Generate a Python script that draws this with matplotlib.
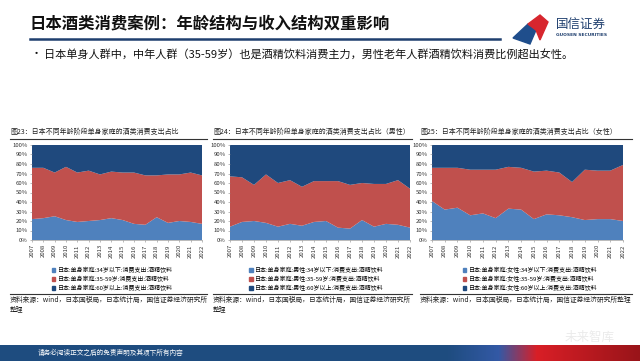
import numpy as np
import matplotlib.pyplot as plt
from matplotlib.patches import Polygon, Rectangle
from matplotlib.lines import Line2D

plt.rcParams['font.family'] = ['Noto Sans CJK SC', 'DejaVu Sans']

years = [str(y) for y in range(2007, 2023)]

# share of alcohol spending (%), bottom layer and cumulative top of middle layer
all_young = [22, 23, 25, 21, 19, 20, 21, 23, 21, 17, 16, 24, 18, 20, 19, 17]
all_mid_top = [76, 76, 71, 77, 71, 73, 69, 72, 71, 71, 68, 68, 69, 69, 71, 68]
male_young = [14, 19, 20, 18, 14, 17, 15, 19, 20, 13, 12, 21, 14, 17, 16, 13]
male_mid_top = [67, 66, 58, 69, 60, 63, 56, 62, 62, 62, 58, 60, 59, 59, 63, 54]
female_young = [41, 32, 34, 26, 28, 23, 33, 32, 22, 27, 26, 24, 21, 22, 22, 20]
female_mid_top = [76, 76, 76, 74, 74, 74, 77, 76, 72, 73, 71, 61, 74, 73, 73, 79]

chart_titles = ["图23：日本不同年龄阶段单身家庭的酒类消费支出占比",
                "图24：日本不同年龄阶段单身家庭的酒类消费支出占比（男性）",
                "图25：日本不同年龄阶段单身家庭的酒类消费支出占比（女性）"]
legend_prefix = ["日本:单身家庭:", "日本:单身家庭:男性:", "日本:单身家庭:女性:"]
age_groups = ["34岁以下", "35-59岁", "60岁以上"]
source = "资料来源：wind，日本国税局，日本统计局，国信证券经济研究所整理"

colors = ['#4F81BD', '#C0504D', '#1F497D']
W, H = 640, 361


def fx(px):
    return px / W


def fy(py):
    return 1 - py / H


fig = plt.figure(figsize=(6.4, 3.61), dpi=100)

# header
fig.text(fx(30), fy(23), "日本酒类消费案例：年龄结构与收入结构双重影响", fontsize=11.8,
         fontweight='bold', va='center', ha='left', color='#111111')
fig.add_artist(Line2D([fx(30), fx(500)], [fy(39), fy(39)], color='#1F3F6E', lw=1.8))
fig.text(fx(31), fy(54), "•", fontsize=8, va='center', ha='left', color='#111111')
fig.text(fx(44), fy(54), "日本单身人群中，中年人群（35-59岁）也是酒精饮料消费主力，男性老年人群酒精饮料消费比例超出女性。",
         fontsize=8.0, va='center', ha='left', color='#111111')

# logo
fig.add_artist(Polygon([[fx(513), fy(38)], [fx(528), fy(24)], [fx(536), fy(30)], [fx(530), fy(44)]],
                       closed=True, transform=fig.transFigure, color='#1F4E8C'))
fig.add_artist(Polygon([[fx(528), fy(24)], [fx(540), fy(15)], [fx(548), fy(22)], [fx(540), fy(40)], [fx(536), fy(30)]],
                       closed=True, transform=fig.transFigure, color='#D7262E'))
fig.text(fx(556), fy(24), "国信证券", fontsize=9, va='center', ha='left', color='#1F3F6E')
fig.text(fx(556), fy(35), "GUOSEN SECURITIES", fontsize=3.2, va='center', ha='left',
         color='#1F3F6E', family='DejaVu Sans', fontweight='bold')

panels = [
    (all_young, all_mid_top, 10, 207, 32, 202),
    (male_young, male_mid_top, 213, 412, 230, 410),
    (female_young, female_mid_top, 420, 632, 432, 623),
]

for i, (young, mid_top, tl, tr, al, ar) in enumerate(panels):
    young = np.array(young, dtype=float)
    mid = np.array(mid_top, dtype=float) - young
    old = 100 - young - mid

    fig.text(fx(tl), fy(132), chart_titles[i], fontsize=5.0, va='center', ha='left', color='#222222')
    fig.add_artist(Line2D([fx(tl), fx(tr)], [fy(139), fy(139)], color='#333333', lw=0.8))

    ax = fig.add_axes([fx(al), fy(240), fx(ar - al), fy(145) - fy(240)])
    x = np.arange(len(years))
    ax.stackplot(x, young, mid, old, colors=colors, linewidth=0)
    ax.set_xlim(0, len(years) - 1)
    ax.set_ylim(0, 100)
    ax.set_yticks(range(0, 101, 10))
    ax.set_yticklabels([f"{v}%" for v in range(0, 101, 10)], fontsize=4.3, color='#333333')
    ax.set_xticks(x)
    ax.set_xticklabels(years, rotation=90, fontsize=4.3, color='#333333')
    ax.tick_params(length=1.5, width=0.4, pad=1.5, colors='#888888', labelcolor='#333333')
    for s in ax.spines.values():
        s.set_visible(False)
    ax.spines['bottom'].set_visible(True)
    ax.spines['bottom'].set_linewidth(0.4)
    ax.spines['bottom'].set_color('#888888')

    handles = [Rectangle((0, 0), 1, 1, color=c) for c in colors]
    labels = [f"{legend_prefix[i]}{a}:消费支出:酒精饮料" for a in age_groups]
    cx = (tl + tr) / 2 + 4
    fig.legend(handles, labels, loc='center', bbox_to_anchor=(fx(cx), fy(279)),
               fontsize=4.3, frameon=False, handlelength=0.55, handleheight=0.55,
               handletextpad=0.4, labelspacing=0.45, ncol=1)

    fig.add_artist(Line2D([fx(tl), fx(tr)], [fy(294), fy(294)], color='#333333', lw=0.8))
    if i < 2:
        fig.text(fx(tl), fy(300), source[:-2], fontsize=4.9, va='center', ha='left', color='#222222')
        fig.text(fx(tl), fy(309), "整理", fontsize=4.9, va='center', ha='left', color='#222222')
    else:
        fig.text(fx(tl), fy(300), source, fontsize=4.9, va='center', ha='left', color='#222222')

# footer bar with blue-to-red gradient
fax = fig.add_axes([0, 0, 1, fy(345)])
grad = np.linspace(0, 1, 400)
r = np.interp(grad, [0, 0.7, 0.78, 0.84, 1], [0.12, 0.12, 0.20, 0.85, 0.60])
g = np.interp(grad, [0, 0.7, 0.78, 0.84, 1], [0.30, 0.30, 0.35, 0.12, 0.08])
b = np.interp(grad, [0, 0.7, 0.78, 0.84, 1], [0.50, 0.50, 0.65, 0.15, 0.10])
img = np.stack([r, g, b], axis=-1)[None, :, :]
fax.imshow(img, aspect='auto', extent=[0, 1, 0, 1])
fax.set_axis_off()
fig.text(fx(38), fy(353), "请务必阅读正文之后的免责声明及其项下所有内容", fontsize=4.8,
         va='center', ha='left', color='white')
fig.text(fx(590), fy(337), "未来智库", fontsize=9, va='center', ha='center', color='#E6E6E6', alpha=0.8)

fig.savefig("out.png", dpi=100)
